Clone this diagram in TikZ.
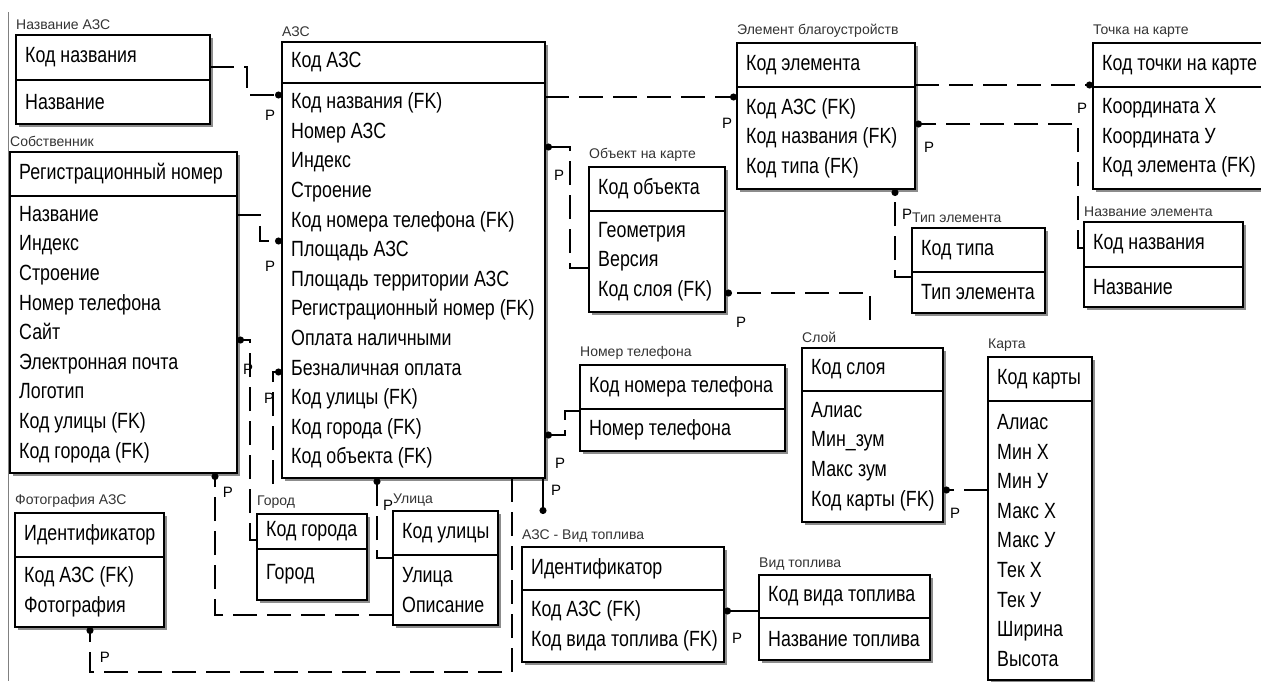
\documentclass[tikz,border=0pt]{standalone}
\usepackage{fontspec}
\setmainfont{Liberation Sans}
\newfontfamily\rowfont{Liberation Sans}[FakeStretch=0.81]
\usetikzlibrary{positioning,shadows,arrows.meta}

\begin{document}
\begin{tikzpicture}[
    x=1pt, y=-1pt,
    text=black,
    >={Circle[length=7pt]},
    box/.style={draw=black, line width=1.3pt, fill=white, inner sep=0pt, outer sep=0pt,
        drop shadow={shadow xshift=3pt, shadow yshift=-3pt, fill=black!45, opacity=1}},
    keybox/.style={box, anchor=north west},
    attrbox/.style={box},
    etitle/.style={anchor=south west, inner sep=0pt, yshift=5pt, text=black!80,
        font=\fontsize{14}{16}\selectfont},
    rowtext/.style={anchor=west, xshift=9pt, inner sep=0pt, align=left,
        font=\rowfont\fontsize{22}{29.6}\selectfont},
    ptxt/.style={inner sep=0pt, font=\fontsize{15}{15}\selectfont},
    rel/.style={->, line width=1.3pt, dash pattern=on 24pt off 10pt},
    idrel/.style={->, line width=1.3pt},
]
\useasboundingbox (0,0) rectangle (1261,681);

% window frame on the left
\draw[black!50, line width=1pt] (8,12) -- (8,681);

% ==================== LEFT COLUMN ====================
% Название АЗС
\node[keybox, minimum width=194pt, minimum height=45pt,
    label={[etitle]north west:Название АЗС}, label={[rowtext]west:Код названия}] (nazv) at (16,35) {};
\node[attrbox, minimum width=194pt, minimum height=44pt, below=0pt of nazv,
    label={[rowtext]west:Название}] (nazv-a) {};

% Собственник
\node[keybox, minimum width=227pt, minimum height=44pt,
    label={[etitle]north west:Собственник}, label={[rowtext]west:Регистрационный номер}] (owner) at (10,152) {};
\node[attrbox, minimum width=227pt, minimum height=277pt, below=0pt of owner,
    label={[rowtext]west:{Название\\Индекс\\Строение\\Номер телефона\\Сайт\\Электронная почта\\Логотип\\Код улицы (FK)\\Код города (FK)}}] (owner-a) {};

% Фотография АЗС
\node[keybox, minimum width=149pt, minimum height=44pt,
    label={[etitle]north west:Фотография АЗС}, label={[rowtext]west:Идентификатор}] (photo) at (15,513) {};
\node[attrbox, minimum width=149pt, minimum height=70pt, below=0pt of photo,
    label={[rowtext]west:{Код АЗС (FK)\\Фотография}}] (photo-a) {};

% Город
\node[keybox, minimum width=110pt, minimum height=35pt,
    label={[etitle]north west:Город}, label={[rowtext]west:Код города}] (city) at (257,514) {};
\node[attrbox, minimum width=110pt, minimum height=51pt, below=0pt of city,
    label={[rowtext]west:Город}] (city-a) {};

% Улица
\node[keybox, minimum width=105pt, minimum height=44pt,
    label={[etitle]north west:Улица}, label={[rowtext]west:Код улицы}] (street) at (393,511) {};
\node[attrbox, minimum width=105pt, minimum height=70pt, below=0pt of street,
    label={[rowtext]west:{Улица\\Описание}}] (street-a) {};

% ==================== MIDDLE ====================
% АЗС
\node[keybox, minimum width=263pt, minimum height=41pt,
    label={[etitle]north west:АЗС}, label={[rowtext]west:Код АЗС}] (azs) at (282,42) {};
\node[attrbox, minimum width=263pt, minimum height=395pt, below=0pt of azs,
    label={[rowtext]west:{Код названия (FK)\\Номер АЗС\\Индекс\\Строение\\Код номера телефона (FK)\\Площадь АЗС\\Площадь территории АЗС\\Регистрационный номер (FK)\\Оплата наличными\\Безналичная оплата\\Код улицы (FK)\\Код города (FK)\\Код объекта (FK)}}] (azs-a) {};

% Объект на карте
\node[keybox, minimum width=136pt, minimum height=44pt,
    label={[etitle]north west:Объект на карте}, label={[rowtext]west:Код объекта}] (objmap) at (589,167) {};
\node[attrbox, minimum width=136pt, minimum height=101pt, below=0pt of objmap,
    label={[rowtext]west:{Геометрия\\Версия\\Код слоя (FK)}}] (objmap-a) {};

% Номер телефона
\node[keybox, minimum width=205pt, minimum height=44pt,
    label={[etitle]north west:Номер телефона}, label={[rowtext]west:Код номера телефона}] (phone) at (580,365) {};
\node[attrbox, minimum width=205pt, minimum height=42pt, below=0pt of phone,
    label={[rowtext]west:Номер телефона}] (phone-a) {};

% АЗС - Вид топлива
\node[keybox, minimum width=202pt, minimum height=43pt,
    label={[etitle]north west:АЗС - Вид топлива}, label={[rowtext]west:Идентификатор}] (azsfuel) at (522,547) {};
\node[attrbox, minimum width=202pt, minimum height=72pt, below=0pt of azsfuel,
    label={[rowtext]west:{Код АЗС (FK)\\Код вида топлива (FK)}}] (azsfuel-a) {};

% Вид топлива
\node[keybox, minimum width=171pt, minimum height=43pt,
    label={[etitle]north west:Вид топлива}, label={[rowtext]west:Код вида топлива}] (fuel) at (759,575) {};
\node[attrbox, minimum width=171pt, minimum height=42pt, below=0pt of fuel,
    label={[rowtext]west:Название топлива}] (fuel-a) {};

% ==================== RIGHT ====================
% Элемент благоустройства
\node[keybox, minimum width=178pt, minimum height=44pt,
    label={[etitle]north west:Элемент благоустройств}, label={[rowtext]west:Код элемента}] (elem) at (737,43) {};
\node[attrbox, minimum width=178pt, minimum height=102pt, below=0pt of elem,
    label={[rowtext]west:{Код АЗС (FK)\\Код названия (FK)\\Код типа (FK)}}] (elem-a) {};

% Точка на карте
\node[keybox, minimum width=170pt, minimum height=44pt,
    label={[etitle]north west:Точка на карте}, label={[rowtext]west:Код точки на карте}] (point) at (1093,43) {};
\node[attrbox, minimum width=170pt, minimum height=102pt, below=0pt of point,
    label={[rowtext]west:{Координата X\\Координата У\\Код элемента (FK)}}] (point-a) {};

% Тип элемента
\node[keybox, minimum width=133pt, minimum height=44pt,
    label={[etitle]north west:Тип элемента}, label={[rowtext]west:Код типа}] (type) at (912,228) {};
\node[attrbox, minimum width=133pt, minimum height=41pt, below=0pt of type,
    label={[rowtext]west:Тип элемента}] (type-a) {};

% Название элемента
\node[keybox, minimum width=159pt, minimum height=45pt,
    label={[etitle]north west:Название элемента}, label={[rowtext]west:Код названия}] (elname) at (1084,222) {};
\node[attrbox, minimum width=159pt, minimum height=40pt, below=0pt of elname,
    label={[rowtext]west:Название}] (elname-a) {};

% Слой
\node[keybox, minimum width=141pt, minimum height=43pt,
    label={[etitle]north west:Слой}, label={[rowtext]west:Код слоя}] (layer) at (802,348) {};
\node[attrbox, minimum width=141pt, minimum height=131pt, below=0pt of layer,
    label={[rowtext]west:{Алиас\\Мин\_зум\\Макс зум\\Код карты (FK)}}] (layer-a) {};

% Карта
\node[keybox, minimum width=104pt, minimum height=44pt,
    label={[etitle]north west:Карта}, label={[rowtext]west:Код карты}] (map) at (988,357) {};
\node[attrbox, minimum width=104pt, minimum height=279pt, below=0pt of map,
    label={[rowtext]west:{Алиас\\Мин X\\Мин У\\Макс X\\Макс У\\Тек X\\Тек У\\Ширина\\Высота}}] (map-a) {};

% ==================== RELATIONSHIPS ====================
\draw[rel] (nazv.east |- 0,67) -| (247,95) -- (azs-a.west |- 0,95);
\draw[rel] (owner-a.east |- 0,215) -| (260,241) -- (azs-a.west |- 0,241);
\draw[rel] (azs-a.east |- 0,97) -- (elem-a.west |- 0,97);
\draw[rel] (objmap-a.west |- 0,268) -| (570,147) -- (azs-a.east |- 0,147);
\draw[rel, shorten <=28pt] (layer.north -| 870,0) |- (objmap-a.east |- 0,293);
\draw[rel] (phone-a.west |- 0,411) -| (565,435) -- (azs-a.east |- 0,435);
\draw[idrel, shorten >=33pt] (azs-a.south -| 543,0) -- (azsfuel.north -| 543,0);
\draw[idrel] (fuel.west |- 0,611) -- (azsfuel-a.east |- 0,611);
\draw[rel] (map-a.west |- 0,490) -- (layer-a.east |- 0,490);
\draw[rel] (elem.east |- 0,85) -- (point.west |- 0,85);
\draw[rel] (elname.west |- 0,248) -| (1078,124) -- (elem-a.east |- 0,124);
\draw[rel] (type-a.west |- 0,277) -| (elem-a.south -| 895,0);
\draw[rel] (azs-a.south -| 512,0) |- (90,672) -- (photo-a.south -| 90,0);
\draw[rel] (street-a.west |- 0,615) -| (owner-a.south -| 215,0);
\draw[rel] (city.west |- 0,540) -| (250,340) -- (owner-a.east |- 0,340);
\draw[rel, shorten <=30pt] (city.north -| 273,0) |- (azs-a.west |- 0,372);
\draw[rel] (street-a.west |- 0,558) -| (azs-a.south -| 377,0);

% P labels
\node[ptxt] (p-nazv)   at (270,115) {P};
\node[ptxt] (p-owner)  at (270,266) {P};
\node[ptxt] (p-elem)   at (727,123) {P};
\node[ptxt] (p-objmap) at (559,175) {P};
\node[ptxt] (p-layer)  at (741,322) {P};
\node[ptxt] (p-phone)  at (560,463) {P};
\node[ptxt] (p-azsf)   at (556,490) {P};
\node[ptxt] (p-fuel)   at (737,638) {P};
\node[ptxt] (p-map)    at (955,513) {P};
\node[ptxt] (p-point)  at (1082,108) {P};
\node[ptxt] (p-elname) at (929,147) {P};
\node[ptxt] (p-type)   at (907,214) {P};
\node[ptxt] (p-photo)  at (105,657) {P};
\node[ptxt] (p-street) at (228,492) {P};
\node[ptxt] (p-city)   at (248,369) {P};
\node[ptxt] (p-city2)  at (269,398) {P};
\node[ptxt] (p-str2)   at (388,505) {P};
\end{tikzpicture}
\end{document}
